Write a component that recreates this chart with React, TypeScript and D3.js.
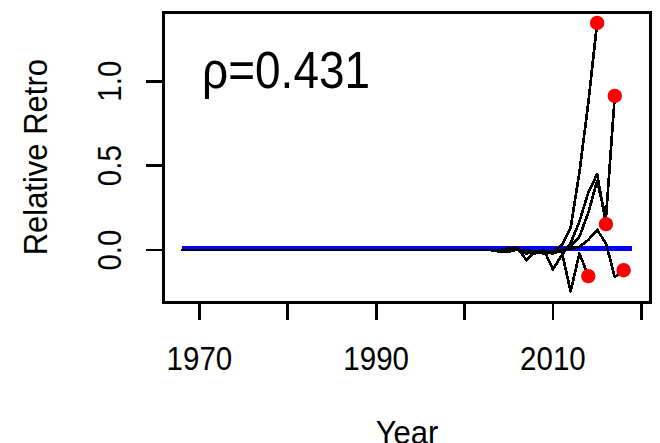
import { useEffect, useRef } from 'react'
import * as d3 from 'd3'

const W = 660
const H = 443

// years before the peels start to differ all sit at 0
const firstYear = 1968
const lastYear = 2019
const recentYears = [2003, 2004, 2005, 2006, 2007, 2008, 2009, 2010, 2011, 2012, 2013, 2014, 2015, 2016, 2017, 2018]

// relative difference of each retrospective peel, from 2003 to its terminal year
const peel2014 = [0, -0.01, -0.01, 0.005, -0.02, -0.01, -0.02, -0.005, -0.01, -0.245, -0.02, -0.154]
const peel2015 = [0, 0, 0.01, 0.015, -0.06, -0.01, -0.01, -0.01, 0.03, 0.13, 0.46, 0.87, 1.345]
const peel2016 = [0, 0, 0, 0, -0.01, -0.02, 0, -0.115, -0.03, 0.04, 0.17, 0.34, 0.45, 0.154]
const peel2017 = [0, 0, 0, 0, -0.01, -0.015, -0.01, -0.02, 0, 0.02, 0.08, 0.22, 0.41, 0.19, 0.913]
const peel2018 = [0, 0, 0, 0, 0, -0.01, -0.01, -0.01, 0, 0.01, 0.02, 0.06, 0.12, 0.04, -0.16, -0.119]
const peels = [peel2014, peel2015, peel2016, peel2017, peel2018]

// base run relative to itself
const baseValue = 0.01

const xTicks = [1970, 1980, 1990, 2000, 2010, 2020]
const xTickLabels = [1970, 1990, 2010]
const yTicks = [0, 0.5, 1.0]
const rhoLabel = 'ρ=0.431'

const FONT = '"Liberation Sans", Arial, sans-serif'

export default function App() {
  const svgRef = useRef<SVGSVGElement>(null)

  useEffect(() => {
    if (!svgRef.current) return
    const svg = d3.select(svgRef.current)
    svg.selectAll('*').remove()

    const left = 163.7, right = 650.5, top = 12.2, bottom = 302.2

    // R style 4% padding
    const pad = (lo: number, hi: number) => [lo - (hi - lo) * 0.04, hi + (hi - lo) * 0.04]
    const allVals = peels.flat().concat([baseValue])
    const x = d3.scaleLinear().domain(pad(firstYear, lastYear)).range([left, right])
    const y = d3.scaleLinear().domain(pad(d3.min(allVals)!, d3.max(allVals)!)).range([bottom, top])

    const line = d3.line<[number, number]>().x(d => x(d[0])).y(d => y(d[1]))

    // blue base line
    svg.append('path')
      .attr('d', line([[firstYear, baseValue], [lastYear, baseValue]]))
      .attr('fill', 'none')
      .attr('stroke', '#0000ff')
      .attr('stroke-width', 5.5)
      .attr('shape-rendering', 'crispEdges')

    // peels
    peels.forEach(vals => {
      const pts: [number, number][] = [[firstYear, 0], ...vals.map((v, i) => [recentYears[i], v] as [number, number])]
      svg.append('path')
        .attr('d', line(pts))
        .attr('fill', 'none')
        .attr('stroke', '#000')
        .attr('stroke-width', 2.7)
        .attr('stroke-linecap', 'round')
        .attr('stroke-linejoin', 'round')
        .attr('shape-rendering', 'crispEdges')
    })

    // terminal points
    peels.forEach(vals => {
      svg.append('circle')
        .attr('cx', x(recentYears[vals.length - 1]))
        .attr('cy', y(vals[vals.length - 1]))
        .attr('r', 7.2)
        .attr('fill', '#ff0000')
    })

    // frame
    svg.append('rect')
      .attr('x', left).attr('y', top)
      .attr('width', right - left).attr('height', bottom - top)
      .attr('fill', 'none').attr('stroke', '#000').attr('stroke-width', 2.8)
      .attr('shape-rendering', 'crispEdges')

    // x axis
    xTicks.forEach(t => {
      svg.append('line')
        .attr('x1', x(t)).attr('x2', x(t))
        .attr('y1', bottom).attr('y2', bottom + 18)
        .attr('stroke', '#000').attr('stroke-width', 2.8)
        .attr('shape-rendering', 'crispEdges')
    })
    xTickLabels.forEach(t => {
      svg.append('text')
        .attr('transform', `translate(${x(t)},370) scale(1,1.1)`)
        .attr('text-anchor', 'middle')
        .attr('font-family', FONT)
        .attr('font-size', '29.5px')
        .attr('fill', '#000')
        .text(t)
    })

    // y axis
    yTicks.forEach(t => {
      svg.append('line')
        .attr('x1', left - 18).attr('x2', left)
        .attr('y1', y(t)).attr('y2', y(t))
        .attr('stroke', '#000').attr('stroke-width', 2.8)
        .attr('shape-rendering', 'crispEdges')
      svg.append('text')
        .attr('transform', `translate(121,${y(t)}) rotate(-90) scale(1,1.1)`)
        .attr('text-anchor', 'middle')
        .attr('font-family', FONT)
        .attr('font-size', '29.5px')
        .attr('fill', '#000')
        .text(d3.format('.1f')(t))
    })

    // axis titles (the reference crops "Year" at the bottom edge)
    svg.append('text')
      .attr('transform', `translate(${(left + right) / 2},444) scale(1,1.08)`)
      .attr('text-anchor', 'middle')
      .attr('font-family', FONT)
      .attr('font-size', '31px')
      .attr('fill', '#000')
      .text('Year')

    svg.append('text')
      .attr('transform', `translate(46.5,${(top + bottom) / 2}) rotate(-90) scale(1,1.08)`)
      .attr('text-anchor', 'middle')
      .attr('font-family', FONT)
      .attr('font-size', '31px')
      .attr('fill', '#000')
      .text('Relative Retro')

    // Mohn's rho
    svg.append('text')
      .attr('transform', 'translate(202,88) scale(1,1.12)')
      .attr('font-family', FONT)
      .attr('font-size', '46px')
      .attr('fill', '#000')
      .text(rhoLabel)
  }, [])

  return (
    <div style={{ position: 'fixed', left: 0, top: 0, width: W, height: H, background: '#fff' }}>
      <svg ref={svgRef} width={W} height={H} style={{ display: 'block' }} />
    </div>
  )
}
